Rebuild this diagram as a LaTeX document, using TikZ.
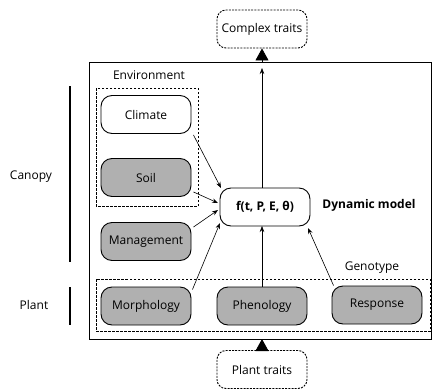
\documentclass[tikz,border=0pt]{standalone}
\usepackage{fontspec}
\setmainfont{Open Sans}
\usetikzlibrary{arrows.meta}
\definecolor{boxgray}{HTML}{B0B0B0}
\tikzset{
  every node/.style={font=\fontsize{12}{14}\selectfont},
  rbox/.style={draw, line width=0.9pt, rounded corners=11pt, minimum width=90pt, minimum height=38pt, inner sep=0pt},
  graybox/.style={rbox, fill=boxgray},
  dbox/.style={draw, dash pattern=on 2pt off 1.2pt, line width=0.9pt, rounded corners=9pt, minimum width=90pt, minimum height=38pt, inner sep=0pt},
  grp/.style={draw, dash pattern=on 2.5pt off 1.5pt, line width=0.7pt},
  conn/.style={-{Stealth[length=6pt,width=4.5pt]}, line width=0.6pt},
  bigtip/.style={-{Triangle[length=12pt,width=13pt]}, line width=0.8pt},
  scale bar/.style={line width=2pt},
}
\begin{document}
\begin{tikzpicture}[x=1pt,y=-1pt]
\useasboundingbox (0,0) rectangle (432,389);
% outer box
\draw[line width=0.9pt] (89,62) rectangle (431,339);
\coordinate (outtop) at (262,62);
\coordinate (outbot) at (262,339);
% group boxes
\draw[grp] (96,88) rectangle (198,206);
\node (envlab) at (149,75) {Environment};
\draw[grp] (96,279) rectangle (430,331);
\node (genlab) at (372,268) {Genotype};
% nodes
\node[dbox] (complex) at (262,29) {Complex traits};
\node[dbox] (plant) at (262,369.5) {Plant traits};
\node[rbox, fill=white] (climate) at (146,114.5) {Climate};
\node[graybox] (soil) at (146,177.5) {Soil};
\node[graybox] (manag) at (146,241.5) {Management};
\node[rbox, fill=white] (f) at (265,207) {\textbf{f(t, P, E, θ)}};
\node (dyn) at (369,205) {\textbf{Dynamic model}};
\node[graybox] (morph) at (146,306) {Morphology};
\node[graybox] (phen) at (262,306) {Phenology};
\node[graybox] (resp) at (377,305) {Response};
% side labels
\node (canopy) at (31,177) {Canopy};
\node (plantlab) at (34,305) {Plant};
\coordinate (c1) at (70,86);
\coordinate (c2) at (70,262);
\coordinate (p1) at (70,287);
\coordinate (p2) at (70,325);
\draw[scale bar] (c1) -- (c2);
\draw[scale bar] (p1) -- (p2);
% connectors
\coordinate (ftop) at (262,68);
\draw[conn] (262,188) -- (ftop);
\draw[bigtip] (outtop) -- (complex.south);
\draw[bigtip] (plant.north) -- (outbot);
\draw[conn] (climate.south east) ++(2,1) -- (221,188);
\draw[conn] (soil.south east) ++(2,-5) -- (218,203);
\draw[conn] (manag.north east) ++(2,5) -- (218,210);
\draw[conn] (morph.north east) ++(1,3) -- (220,223);
\draw[conn] (phen.north) -- (262,226);
\draw[conn] (resp.north west) ++(2,0) -- (308,228);
\end{tikzpicture}
\end{document}
